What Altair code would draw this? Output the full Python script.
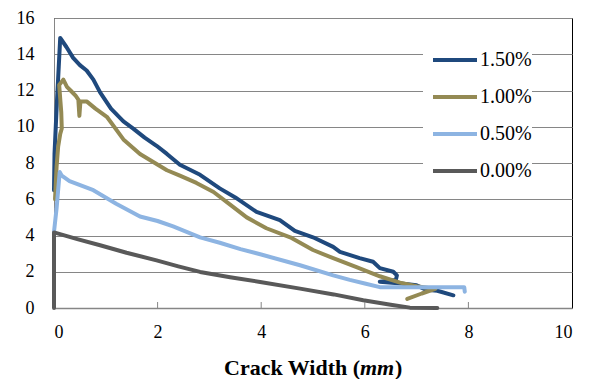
import altair as alt
import pandas as pd

series_names = ["1.50%", "1.00%", "0.50%", "0.00%"]
series_colors = ["#1F497D", "#948A54", "#8DB4E2", "#595959"]

blue_x = [0, 0.01, 0.05, 0.12, 0.24, 0.37, 0.5, 0.63, 0.76, 0.89, 1.1, 1.34, 1.53, 1.75, 1.98, 2.18, 2.43,
          2.82, 3.2, 3.5, 3.91, 4.36, 4.65, 5.0, 5.39, 5.52, 5.9, 6.16, 6.29, 6.55, 6.62, 6.6, 6.29, 6.7,
          7.0, 7.19, 7.4, 7.71]
blue_y = [6.5, 8.5, 11.0, 14.9, 14.4, 13.8, 13.4, 13.1, 12.6, 11.9, 11.0, 10.3, 9.9, 9.4, 8.95, 8.5, 7.9,
          7.35, 6.6, 6.1, 5.3, 4.85, 4.25, 3.9, 3.37, 3.1, 2.75, 2.55, 2.2, 2.0, 1.8, 1.55, 1.45, 1.35,
          1.25, 1.0, 0.95, 0.7]

olive_x = [0.02, 0.05, 0.08, 0.12, 0.15, 0.14, 0.1, 0.18, 0.25, 0.32, 0.42, 0.47, 0.49, 0.51, 0.63, 0.8,
           1.02, 1.34, 1.66, 2.18, 2.43, 2.75, 3.08, 3.4, 3.72, 4.1, 4.56, 4.75, 5.0, 5.39, 5.84, 6.29,
           6.68, 7.0, 7.36, 7.1, 6.82]
olive_y = [6.0, 7.8, 8.9, 9.6, 9.9, 10.8, 12.3, 12.6, 12.2, 12.0, 11.7, 11.5, 10.6, 11.4, 11.4, 11.0,
           10.55, 9.3, 8.5, 7.6, 7.3, 6.9, 6.4, 5.7, 5.0, 4.4, 3.9, 3.6, 3.2, 2.75, 2.25, 1.75, 1.4, 1.2,
           1.05, 0.8, 0.5]

lb_x = [0, 0.05, 0.11, 0.15, 0.3, 0.53, 0.76, 0.85, 1.2, 1.66, 2.0, 2.3, 2.82, 3.2, 3.6, 4.0, 4.75,
        5.39, 5.71, 6.0, 6.29, 7.0, 7.92, 7.93]
lb_y = [4.2, 5.5, 7.5, 7.3, 7.0, 6.75, 6.5, 6.35, 5.75, 5.05, 4.8, 4.5, 3.9, 3.6, 3.25, 2.95, 2.36, 1.8,
        1.55, 1.35, 1.15, 1.15, 1.15, 0.9]

gray_x = [0, 0, 0.45, 0.89, 1.4, 1.98, 2.4, 2.82, 3.4, 3.98, 4.75, 5.4, 5.97, 6.5, 6.87, 7.4]
gray_y = [0, 4.17, 3.8, 3.46, 3.05, 2.63, 2.3, 1.99, 1.7, 1.44, 1.07, 0.75, 0.43, 0.18, 0.02, 0.0]

x_ticks = [0, 2, 4, 6, 8, 10]
y_ticks = [0, 2, 4, 6, 8, 10, 12, 14, 16]
inner_ticks = [2, 4, 6, 8]

rows = []
for name, xs, ys in zip(series_names, [blue_x, olive_x, lb_x, gray_x], [blue_y, olive_y, lb_y, gray_y]):
    for i, (xv, yv) in enumerate(zip(xs, ys)):
        rows.append({"series": name, "x": xv, "y": yv, "i": i})
df = pd.DataFrame(rows)

FONT = "Liberation Serif"
GRID = "#868686"

x_scale = alt.Scale(domain=[0, 10], nice=False)
y_scale = alt.Scale(domain=[0, 16], nice=False)

lines = alt.Chart(df).mark_line(strokeWidth=4, strokeJoin="round", strokeCap="round").encode(
    x=alt.X("x:Q", scale=x_scale, title=None,
            axis=alt.Axis(values=x_ticks, grid=False, tickSize=0, labelPadding=15,
                          domainColor=GRID, domainWidth=1.5)),
    y=alt.Y("y:Q", scale=y_scale, title=None,
            axis=alt.Axis(values=y_ticks, grid=True, gridColor=GRID, gridWidth=1, tickSize=0,
                          labelPadding=20, domainColor=GRID, domainWidth=1)),
    color=alt.Color("series:N",
                    scale=alt.Scale(domain=series_names, range=series_colors),
                    sort=series_names,
                    legend=alt.Legend(orient="none", legendX=369, legendY=18, title=None,
                                      symbolType="stroke", symbolSize=1936, symbolStrokeWidth=4,
                                      symbolOffset=8, labelOffset=1, padding=0,
                                      rowPadding=3, fillColor="white")),
    detail="series:N",
    order="i:Q",
)

tick_df = pd.DataFrame({"t": inner_ticks})
ticks = alt.Chart(tick_df).mark_rule(color=GRID, strokeWidth=1).encode(
    x=alt.X("t:Q", scale=x_scale),
    y=alt.value(284),
    y2=alt.value(290),
)

title_df = pd.DataFrame({"a": ["Crack Width ("], "b": ["mm"], "c": [")"]})
t1 = alt.Chart(title_df).mark_text(font=FONT, fontSize=22, fontWeight="bold", align="left",
                                   baseline="alphabetic").encode(
    text="a:N", x=alt.value(170), y=alt.value(357))
t2 = alt.Chart(title_df).mark_text(font=FONT, fontSize=22, fontWeight="bold", fontStyle="italic",
                                   align="left", baseline="alphabetic").encode(
    text="b:N", x=alt.value(306), y=alt.value(357))
t3 = alt.Chart(title_df).mark_text(font=FONT, fontSize=22, fontWeight="bold", align="left",
                                   baseline="alphabetic").encode(
    text="c:N", x=alt.value(341), y=alt.value(357))

chart = alt.layer(lines, ticks, t1, t2, t3).properties(
    width=518, height=290,
    padding={"left": 46, "top": 10, "right": 11, "bottom": 71},
    autosize="none",
).configure(
    background="white", font=FONT
).configure_view(
    stroke="black", strokeWidth=1
).configure_axis(
    labelFont=FONT, labelFontSize=18, labelColor="black"
).configure_legend(
    labelFont=FONT, labelFontSize=20, labelColor="black"
)

chart.save("out.html", embed_options={"renderer": "svg", "actions": False})
